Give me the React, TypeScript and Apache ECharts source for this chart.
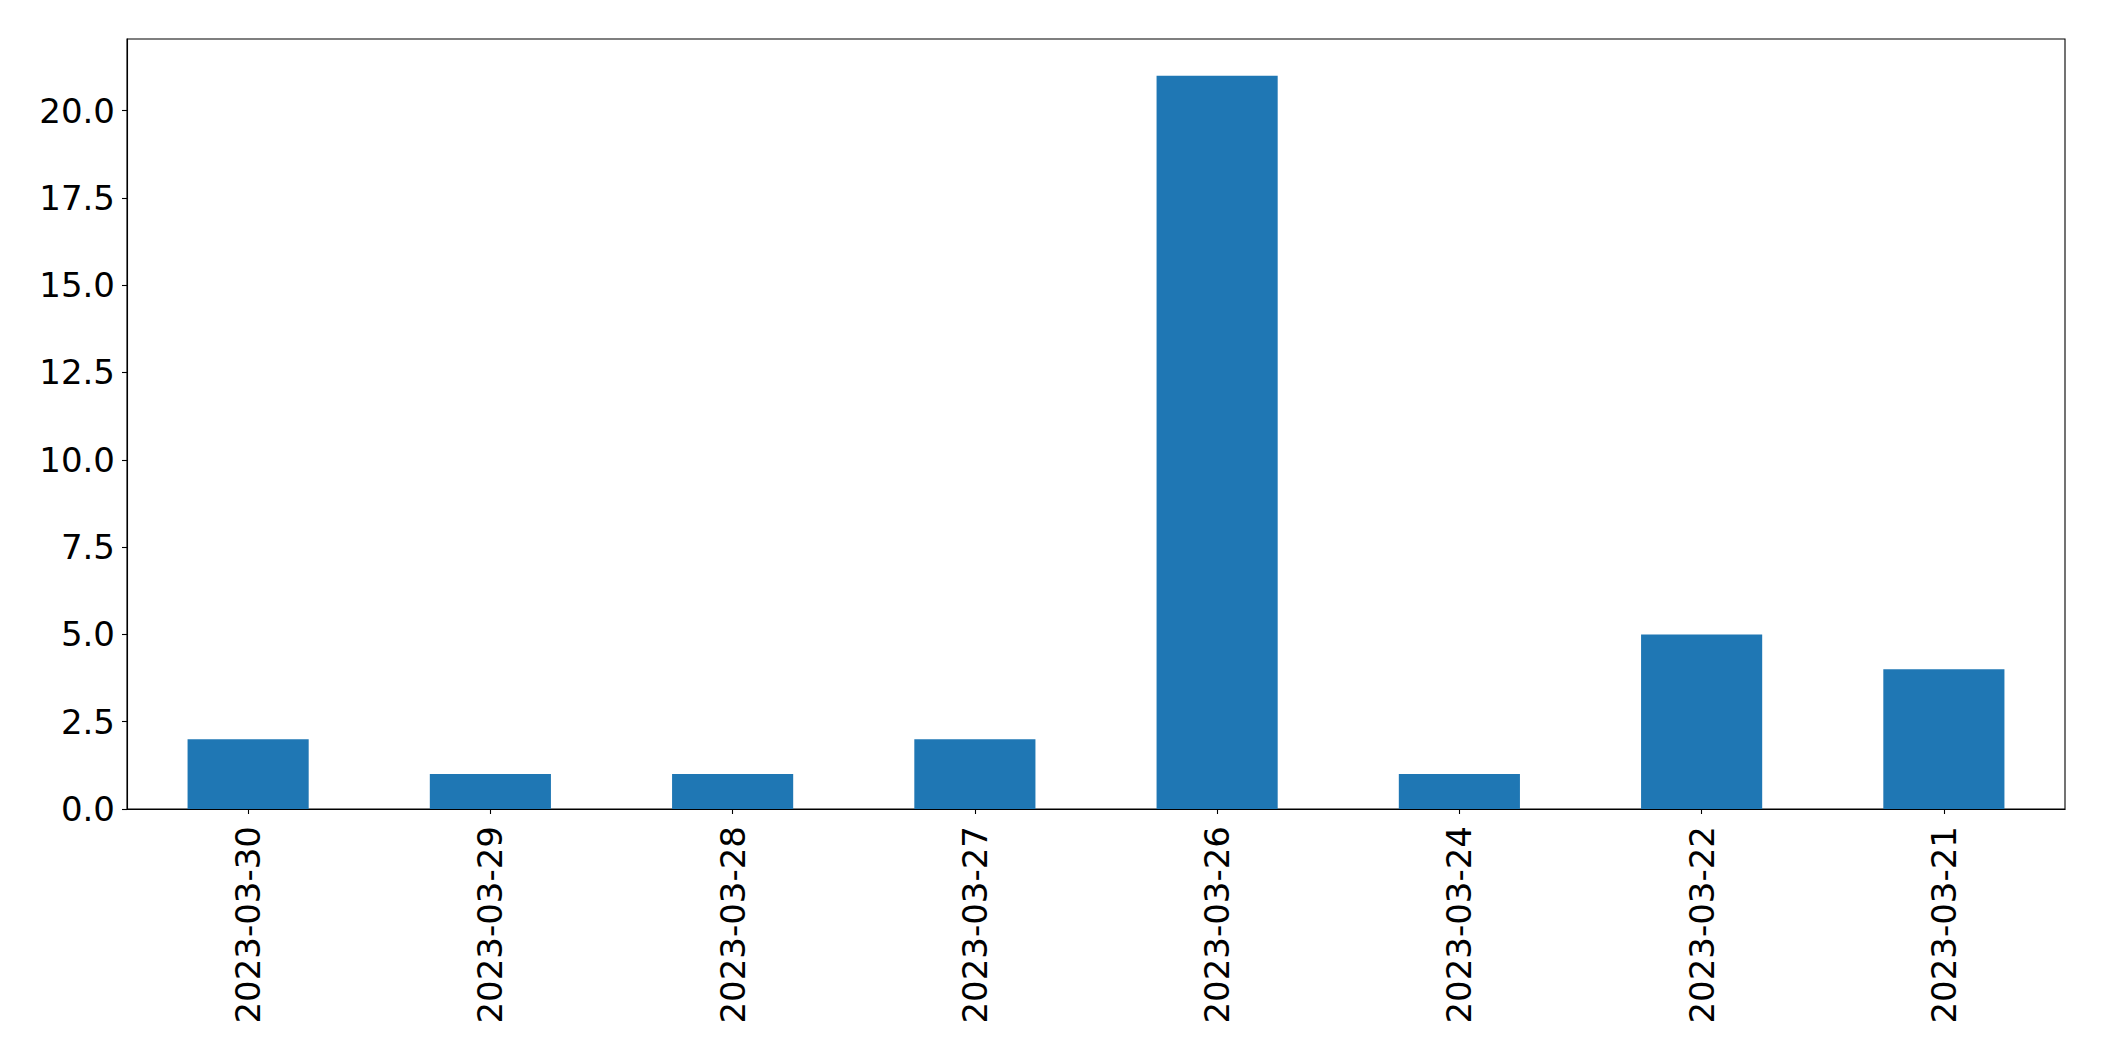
import React, { useEffect, useRef } from "react";
import * as echarts from "echarts";

const categories = ["2023-03-30", "2023-03-29", "2023-03-28", "2023-03-27", "2023-03-26", "2023-03-24", "2023-03-22", "2023-03-21"];
const values = [2, 1, 1, 2, 21, 1, 5, 4];
const yTicks = [0, 2.5, 5, 7.5, 10, 12.5, 15, 17.5, 20];

export default function App() {
  const ref = useRef<HTMLDivElement>(null);
  useEffect(() => {
    document.body.style.margin = "0";
    const chart = echarts.init(ref.current!, null, { renderer: "svg" });
    const font = "DejaVu Sans";
    chart.setOption({
      animation: false,
      backgroundColor: "#ffffff",
      grid: {
        left: 127,
        top: 39,
        width: 1938,
        height: 770,
        show: true,
        borderColor: "#000000",
        borderWidth: 1.1,
        containLabel: false,
      },
      xAxis: {
        type: "category",
        data: categories,
        axisLine: { show: true, lineStyle: { color: "#000000", width: 1.1 } },
        axisTick: { show: true, alignWithLabel: true, length: 5, lineStyle: { color: "#000000", width: 1.1 } },
        axisLabel: {
          rotate: 90,
          margin: 17,
          color: "#000000",
          fontFamily: font,
          fontSize: 34,
        },
        splitLine: { show: false },
      },
      yAxis: {
        type: "value",
        min: 0,
        max: 22.05,
        interval: 2.5,
        axisLine: { show: true, lineStyle: { color: "#000000", width: 1.1 } },
        axisTick: { show: true, length: 5, customValues: yTicks, lineStyle: { color: "#000000", width: 1.1 } },
        axisLabel: {
          customValues: yTicks,
          margin: 12,
          color: "#000000",
          fontFamily: font,
          fontSize: 34,
          formatter: (v: number) => v.toFixed(1),
        },
        splitLine: { show: false },
      },
      series: [
        {
          type: "bar",
          data: values,
          barWidth: "50%",
          itemStyle: { color: "#1f77b4" },
        },
      ],
    });
    return () => chart.dispose();
  }, []);
  return <div ref={ref} style={{ position: "absolute", left: 0, top: 0, width: 2104, height: 1061 }} />;
}
